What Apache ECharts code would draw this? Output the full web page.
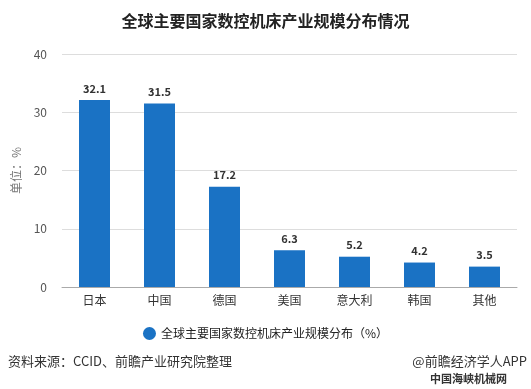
<!DOCTYPE html>
<html><head><meta charset="utf-8">
<script src="https://cdn.jsdelivr.net/npm/echarts@6/dist/echarts.min.js"></script>
<style>html,body{margin:0;padding:0;background:#fff}#c{width:531px;height:389px}</style>
</head><body><div id="c"></div>
<script>
const categories = ['日本','中国','德国','美国','意大利','韩国','其他'];
const values = [32.1, 31.5, 17.2, 6.3, 5.2, 4.2, 3.5];
const seriesName = '全球主要国家数控机床产业规模分布（%）';
const yTicks = {min: 0, max: 40, interval: 10};

const chart = echarts.init(document.getElementById('c'));
const font = '"Microsoft YaHei","Noto Sans CJK SC",sans-serif';
chart.setOption({
  backgroundColor: '#fff',
  textStyle: {fontFamily: font},
  title: {text: '全球主要国家数控机床产业规模分布情况', left: 'center', top: 8,
    textStyle: {fontSize: 16, fontWeight: 'bold', color: '#222', fontFamily: font}},
  legend: {data: [seriesName], bottom: 44, left: 'center', icon: 'circle', itemWidth: 13, itemHeight: 13, itemGap: 8,
    textStyle: {fontSize: 12, color: '#222', fontFamily: font}},
  grid: {left: 62, right: 14, top: 54, bottom: 102},
  xAxis: {type: 'category', data: categories,
    axisLine: {lineStyle: {color: '#aaa'}},
    axisTick: {alignWithLabel: true, length: 4, lineStyle: {color: '#aaa'}},
    axisLabel: {color: '#333', fontSize: 12, margin: 7}},
  yAxis: {type: 'value', min: yTicks.min, max: yTicks.max, interval: yTicks.interval,
    name: '单位：%', nameLocation: 'middle', nameGap: 40, nameRotate: 90,
    nameTextStyle: {color: '#777', fontSize: 12},
    axisLine: {show: false}, axisTick: {show: false},
    axisLabel: {color: '#555', fontSize: 12, margin: 15},
    splitLine: {lineStyle: {color: '#ddd'}}},
  series: [{name: seriesName, type: 'bar', data: values, barWidth: 31,
    itemStyle: {color: '#1a72c4'},
    label: {show: true, position: 'top', distance: 6, color: '#333', fontWeight: 'bold', fontSize: 11,
      formatter: p => p.value.toFixed(1)}}],
  graphic: [
    {type: 'text', left: 8, top: 355, style: {text: '资料来源：CCID、前瞻产业研究院整理', fill: '#333', fontSize: 13, fontFamily: font}},
    {type: 'text', right: 4, top: 355, style: {text: '@前瞻经济学人APP', fill: '#333', fontSize: 13, fontFamily: font}},
    {type: 'text', left: 430, top: 373, style: {text: '中国海峡机械网', fill: '#333', fontSize: 11, fontWeight: 'bold', fontFamily: font}}
  ]
});
</script></body></html>
